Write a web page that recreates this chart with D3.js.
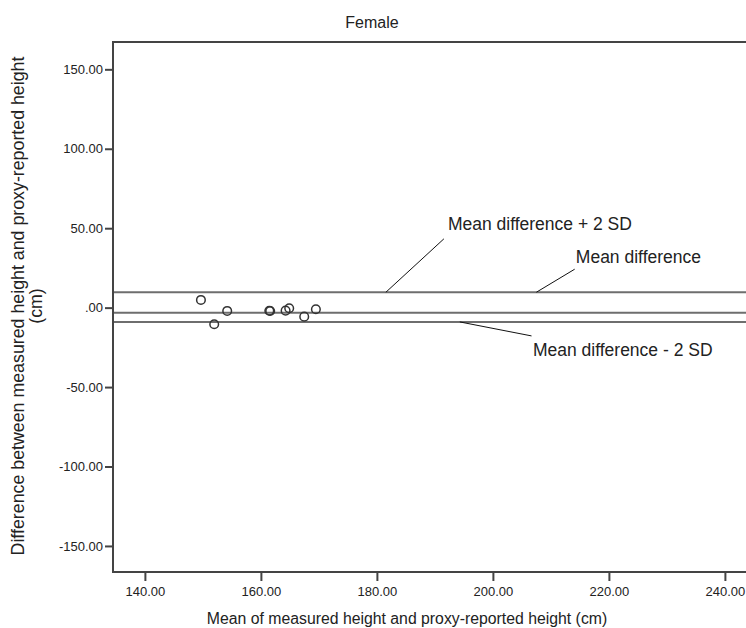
<!DOCTYPE html>
<html>
<head>
<meta charset="utf-8">
<script src="https://cdn.jsdelivr.net/npm/d3@7.9.0/dist/d3.min.js"></script>
<style>
  body { margin: 0; background: #fff; }
  svg { display: block; font-family: "Liberation Sans", Arial, sans-serif; }
</style>
</head>
<body>
<svg id="chart" width="746" height="628"></svg>
<script>
// mean of the two heights (x) and their difference (y), one entry per person
const meanHeight = [149.66, 154.19, 151.95, 161.45, 161.6, 164.26, 164.88, 167.47, 169.48];
const diffHeight = [4.85, -2.08, -10.46, -1.95, -2.15, -1.89, -0.38, -5.67, -1.0];

// reference lines: mean difference and +/- 2 SD
const refNames = ['upper', 'mean', 'lower'];
const refValues = [9.7, -3.2, -9.0];

// annotation labels, leader start (x on a ref line), leader end and text spot
const noteText = ['Mean difference + 2 SD', 'Mean difference', 'Mean difference - 2 SD'];
const noteLine = ['upper', 'upper', 'lower'];
const noteFromX = [181.55, 207.5, 194.3];
const noteToX = [191.55, 214.1, 206.66];
const noteToY = [43.3, 24.2, -17.8];
const noteTextX = [192.24, 214.3, 206.9];
const noteTextY = [49.0, 28.4, -30.6];

const xTicks = [140, 160, 180, 200, 220, 240];
const yTicks = [150, 100, 50, 0, -50, -100, -150];

const svg = d3.select('#chart');
const mLeft = 113, mTop = 42, mRight = 751, mBottom = 572;

const x = d3.scaleLinear().domain([134.5, 244.5]).range([mLeft, mRight]);
const y = d3.scaleLinear().domain([-166.4, 167.2]).range([mBottom, mTop]);

const fmt = (d) => d === 0 ? '.00' : d3.format('.2f')(d).replace('\u2212', '-');

// title
svg.append('text')
  .attr('x', 372).attr('y', 28)
  .attr('text-anchor', 'middle')
  .attr('font-size', 16)
  .attr('fill', '#222')
  .text('Female');

// reference lines
const refY = {};
refNames.forEach((n, i) => { refY[n] = refValues[i]; });
svg.append('g')
  .selectAll('line')
  .data(refValues)
  .join('line')
  .attr('x1', mLeft).attr('x2', mRight)
  .attr('y1', (d) => y(d)).attr('y2', (d) => y(d))
  .attr('stroke', '#6e6e6e')
  .attr('stroke-width', 2);

// leader lines and annotation text
const notes = noteText.map((t, i) => ({
  t, fx: noteFromX[i], fy: refY[noteLine[i]],
  tx: noteToX[i], ty: noteToY[i], lx: noteTextX[i], ly: noteTextY[i]
}));
const ng = svg.append('g');
ng.selectAll('line')
  .data(notes)
  .join('line')
  .attr('x1', (d) => x(d.fx)).attr('y1', (d) => y(d.fy))
  .attr('x2', (d) => x(d.tx)).attr('y2', (d) => y(d.ty))
  .attr('stroke', '#111')
  .attr('stroke-width', 1);
ng.selectAll('text')
  .data(notes)
  .join('text')
  .attr('x', (d) => x(d.lx)).attr('y', (d) => y(d.ly))
  .attr('font-size', 17.5)
  .attr('fill', '#222')
  .text((d) => d.t);

// points
svg.append('g')
  .selectAll('circle')
  .data(meanHeight.map((m, i) => [m, diffHeight[i]]))
  .join('circle')
  .attr('cx', (d) => x(d[0]))
  .attr('cy', (d) => y(d[1]))
  .attr('r', 4.3)
  .attr('fill', 'none')
  .attr('stroke', '#333')
  .attr('stroke-width', 1.5);

// frame
svg.append('path')
  .attr('d', `M${mRight},${mTop}H${mLeft}V${mBottom}H${mRight}`)
  .attr('fill', 'none')
  .attr('stroke', '#444')
  .attr('stroke-width', 2);

// axes
const xAxis = svg.append('g')
  .attr('transform', `translate(0,${mBottom})`)
  .call(d3.axisBottom(x).tickValues(xTicks).tickFormat(fmt).tickSize(9).tickPadding(6));
const yAxis = svg.append('g')
  .attr('transform', `translate(${mLeft},0)`)
  .call(d3.axisLeft(y).tickValues(yTicks).tickFormat(fmt).tickSize(8).tickPadding(2));
[xAxis, yAxis].forEach((g) => {
  g.select('.domain').remove();
  g.selectAll('.tick line').attr('stroke', '#444').attr('stroke-width', 2);
  g.selectAll('.tick text')
    .attr('font-family', '"Liberation Sans", Arial, sans-serif')
    .attr('font-size', 13)
    .attr('fill', '#222');
});

// axis titles
svg.append('text')
  .attr('x', 407).attr('y', 624)
  .attr('text-anchor', 'middle')
  .attr('font-size', 15.8)
  .attr('fill', '#222')
  .text('Mean of measured height and proxy-reported height (cm)');

const yl = svg.append('text')
  .attr('transform', 'translate(0,306) rotate(-90)')
  .attr('text-anchor', 'middle')
  .attr('font-size', 17.8)
  .attr('fill', '#222');
yl.append('tspan').attr('x', 0).attr('y', 24)
  .text('Difference between measured height and proxy-reported height');
yl.append('tspan').attr('x', 0).attr('y', 42).text('(cm)');
</script>
</body>
</html>
